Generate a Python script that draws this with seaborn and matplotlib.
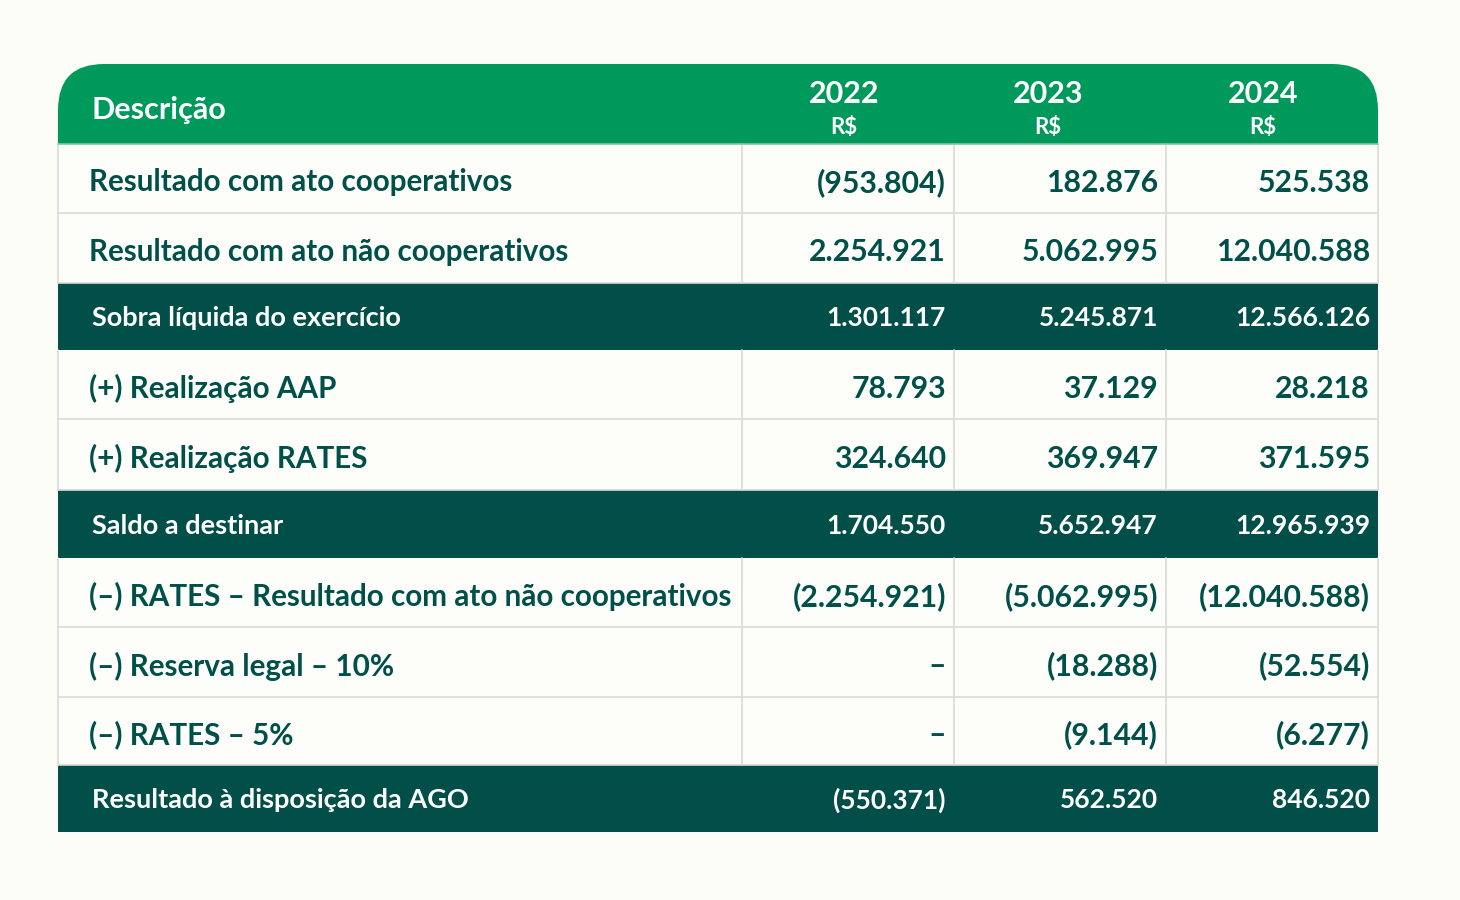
import matplotlib.pyplot as plt
import seaborn as sns
from matplotlib.patches import Rectangle, FancyBboxPatch

# table content
years = ['2022', '2023', '2024']
labels = ['Resultado com ato cooperativos',
          'Resultado com ato não cooperativos',
          'Sobra líquida do exercício',
          '(+) Realização AAP',
          '(+) Realização RATES',
          'Saldo a destinar',
          '(–) RATES – Resultado com ato não cooperativos',
          '(–) Reserva legal – 10%',
          '(–) RATES – 5%',
          'Resultado à disposição da AGO']
is_total = [False, False, True, False, False, True, False, False, False, True]
v2022 = [-953804, 2254921, 1301117, 78793, 324640, 1704550, -2254921, 0, 0, -550371]
v2023 = [182876, 5062995, 5245871, 37129, 369947, 5652947, -5062995, -18288, -9144, 562520]
v2024 = [525538, 12040588, 12566126, 28218, 371595, 12965939, -12040588, -52554, -6277, 846520]


def fmt(v):
    if v == 0:
        return '–'
    s = f'{abs(v):,}'.replace(',', '.')
    return f'({s})' if v < 0 else s


sns.set_theme(style='white')
plt.rcParams['font.family'] = ['Lato', 'DejaVu Sans']

BG = '#fdfdf8'
GREEN = '#00995c'
DARK = '#024e48'
TEXT = '#00504a'
GRID = '#d9d9d6'

fig = plt.figure(figsize=(14.6, 9), dpi=100, facecolor=BG)
ax = fig.add_axes([0, 0, 1, 1])
ax.set_xlim(0, 1460)
ax.set_ylim(900, 0)
ax.axis('off')

left, right = 58, 1378
col_edges = [742, 954, 1166, 1378]
row_edges = [144, 213, 283, 350, 419, 490, 558, 627, 697, 765, 832]
top = 64

# header with rounded top corners
ax.add_patch(FancyBboxPatch((left, top), right - left, 120, boxstyle='round,pad=0,rounding_size=46',
                            fc=GREEN, ec='none', zorder=1))
ax.add_patch(Rectangle((left, 110), right - left, 34, fc=GREEN, ec='none', zorder=1))
ax.text(92, 110, 'Descrição', color='white', fontsize=22, fontweight='bold', va='center', ha='left', zorder=5)
centers = [844, 1048, 1263]
for yr, cx in zip(years, centers):
    ax.text(cx, 94, yr, color='white', fontsize=22, fontweight='bold', ha='center', va='center', zorder=5)
    ax.text(cx, 127, 'R$', color='white', fontsize=16, fontweight='bold', ha='center', va='center', zorder=5)

cols = [v2022, v2023, v2024]
for i, lab in enumerate(labels):
    y0, y1 = row_edges[i], row_edges[i + 1]
    yc = (y0 + y1) / 2
    if is_total[i]:
        ax.add_patch(Rectangle((left, y0), right - left, y1 - y0, fc=DARK, ec='none', zorder=2))
        tc, fs, ns, tx, dy = 'white', 19.5, 19, 92, 2
    else:
        ax.add_patch(Rectangle((left, y0), right - left, y1 - y0, fc='#fdfdfa', ec='none', zorder=1))
        ax.plot([left, right], [y1, y1], color=GRID, lw=1.2, zorder=3)
        for cx in [left] + col_edges:
            ax.plot([cx, cx], [y0, y1], color=GRID, lw=1.2, zorder=3)
        tc, fs, ns, tx, dy = TEXT, 21.3, 21.8, 89, 4
    ax.text(tx, yc + dy, lab, color=tc, fontsize=fs, fontweight='bold', ha='left', va='center', zorder=5)
    for j, vals in enumerate(cols):
        ax.text(col_edges[j + 1] - 8 if j < 2 else 1370, yc + dy, fmt(vals[i]), color=tc, fontsize=ns,
                fontweight='bold', ha='right', va='center', zorder=5)
ax.plot([left, right], [144, 144], color='#7fc6a8', lw=1.2, zorder=3)

fig.savefig('out.png', dpi=100, facecolor=BG)
